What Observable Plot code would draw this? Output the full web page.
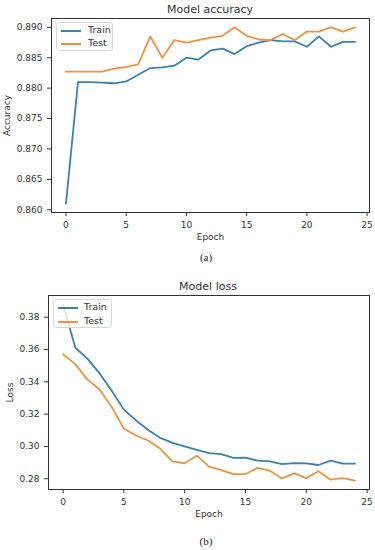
<!DOCTYPE html>
<html><head><meta charset="utf-8">
<script src="https://cdn.jsdelivr.net/npm/d3@7"></script>
<script src="https://cdn.jsdelivr.net/npm/@observablehq/plot@0.6"></script>
<style>
body{margin:0;background:#fff;}
#root{position:relative;width:375px;height:550px;font-family:"DejaVu Sans",sans-serif;color:#333;overflow:hidden;}
#root svg{position:absolute;left:0;}
.title{position:absolute;font-size:11px;transform:translate(-50%,-50%);white-space:nowrap;color:#333;}
.cap{position:absolute;font-family:"Liberation Serif",serif;font-size:11px;transform:translate(-50%,-50%);color:#222;}
.legend{position:absolute;border:1px solid #d8d8d8;border-radius:3px;background:rgba(255,255,255,0.8);font-size:9.5px;z-index:2;box-sizing:border-box;}
.sw{position:absolute;width:20px;height:2px;}
.lt{position:absolute;white-space:nowrap;line-height:12px;color:#333;}
</style></head>
<body><div id="root"></div>
<script>
const epochs = [0,1,2,3,4,5,6,7,8,9,10,11,12,13,14,15,16,17,18,19,20,21,22,23,24];
const seriesNames = ["Train","Test"];
const accTrain = [0.8610,0.8810,0.8810,0.8809,0.8808,0.8811,0.8822,0.8833,0.8834,0.8837,0.8850,0.8847,0.8862,0.8865,0.8856,0.8869,0.8875,0.8879,0.8877,0.8877,0.8868,0.8885,0.8868,0.8876,0.8876];
const accTest  = [0.8827,0.8827,0.8827,0.8827,0.8832,0.8835,0.8839,0.8885,0.8850,0.8879,0.8875,0.8879,0.8883,0.8886,0.8900,0.8886,0.8880,0.8879,0.8889,0.8879,0.8893,0.8893,0.8900,0.8893,0.8900];
const lossTrain = [0.3880,0.3612,0.3544,0.3452,0.3345,0.3228,0.3161,0.3102,0.3053,0.3022,0.3001,0.2979,0.2958,0.2952,0.2929,0.2931,0.2912,0.2908,0.2891,0.2897,0.2895,0.2885,0.2912,0.2893,0.2893];
const lossTest  = [0.3571,0.3510,0.3415,0.3353,0.3244,0.3110,0.3068,0.3037,0.2985,0.2908,0.2896,0.2943,0.2875,0.2854,0.2829,0.2829,0.2867,0.2850,0.2802,0.2833,0.2804,0.2846,0.2794,0.2804,0.2788];
const xTicks = [0,5,10,15,20,25];
const accTicks = [0.860,0.865,0.870,0.875,0.880,0.885,0.890];
const lossTicks = [0.28,0.30,0.32,0.34,0.36,0.38];
const colors = ["#3a7fb6","#f2923f"];

function pad(vals){const lo=d3.min(vals),hi=d3.max(vals),r=hi-lo;return [lo-0.05*r,hi+0.05*r];}
function rows(a,b){return epochs.flatMap((e,i)=>[{epoch:e,value:a[i],series:seriesNames[0]},{epoch:e,value:b[i],series:seriesNames[1]}]);}

const root = document.getElementById("root");
function addDiv(cls, text, x, y){const d=document.createElement("div");d.className=cls;d.textContent=text;d.style.left=x+"px";d.style.top=y+"px";root.appendChild(d);return d;}
function addLegend(x,y,w,h,rowYs,swX,txtX){
  const L=document.createElement("div");L.className="legend";
  Object.assign(L.style,{left:x+"px",top:y+"px",width:w+"px",height:h+"px"});
  seriesNames.forEach((s,i)=>{
    const sw=document.createElement("div");sw.className="sw";
    Object.assign(sw.style,{left:(swX-x)+"px",top:(rowYs[i]-y-1)+"px",background:colors[i]});
    const t=document.createElement("div");t.className="lt";t.textContent=s;
    Object.assign(t.style,{left:(txtX-x)+"px",top:(rowYs[i]-y-7)+"px"});
    L.appendChild(sw);L.appendChild(t);
  });
  root.appendChild(L);
}

function chart(data, yDomain, yTicks, yFmt, yLabel, opts){
  const svg = Plot.plot({
    width:375, height:opts.height,
    marginLeft:opts.ml, marginRight:6, marginTop:opts.mt, marginBottom:opts.mb,
    style:{fontFamily:"DejaVu Sans, sans-serif",fontSize:"9px",color:"#333",background:"transparent",overflow:"visible"},
    x:{domain:[-1.2,25.2],ticks:xTicks,tickSize:4,label:"Epoch",labelAnchor:"center",labelArrow:"none",labelOffset:opts.xlo},
    y:{domain:yDomain,ticks:yTicks,tickFormat:yFmt,tickSize:4,label:yLabel,labelAnchor:"center",labelArrow:"none",labelOffset:opts.ylo},
    color:{domain:seriesNames,range:colors},
    marks:[
      Plot.line(data,{x:"epoch",y:"value",stroke:"series",strokeWidth:1.8}),
      Plot.frame({stroke:"#333",strokeWidth:1})
    ]
  });
  svg.style.top = opts.top+"px";
  root.appendChild(svg);
}

chart(rows(accTrain,accTest), pad(accTrain.concat(accTest)), accTicks, ".3f", "Accuracy",
  {height:242, ml:51, mt:18, mb:30, top:0, xlo:27, ylo:48});
chart(rows(lossTrain,lossTest), pad(lossTrain.concat(lossTest)), lossTicks, ".2f", "Loss",
  {height:250, ml:48, mt:25, mb:31, top:270, xlo:27, ylo:42});

addDiv("title","Model accuracy",210,9);
addDiv("cap","(a)",206,257);
addDiv("title","Model loss",208,286);
addDiv("cap","(b)",206,541);
addLegend(56,22,57,29,[30,43],60,87);
addLegend(53,299,59,29,[307,321],57,83);
</script></body></html>
